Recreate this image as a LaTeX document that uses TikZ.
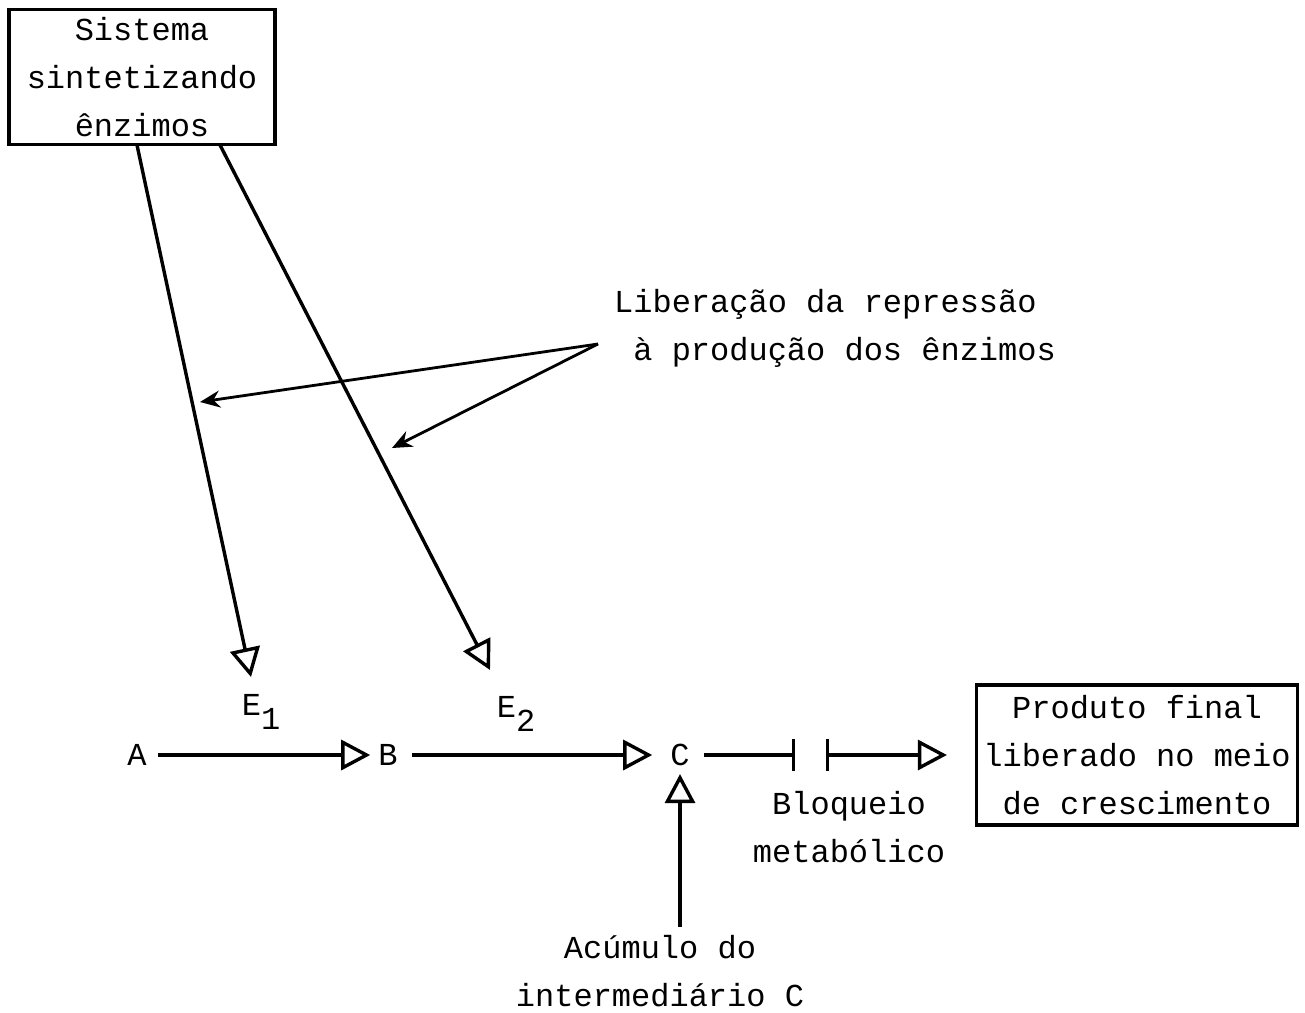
\documentclass[tikz,border=0pt]{standalone}
\usepackage{fontspec}
\setmainfont{Liberation Mono}
\usetikzlibrary{arrows.meta,calc}
\begin{document}
\begin{tikzpicture}[x=1pt,y=-1pt,
  txt/.style={font=\fontsize{32}{48}\selectfont, inner sep=0pt, align=center},
  box/.style={txt, draw, line width=3.2pt},
  letter/.style={txt, inner sep=8pt},
  ln/.style={line width=3.4pt},
  opentip/.style={ln, -{Triangle[open,length=29pt,width=30pt]}},
  solidtip/.style={line width=2.8pt, -{Stealth[length=20pt,width=17pt]}},
  blocktip/.style={ln, -{Bar[width=32pt]}}
]
\useasboundingbox (0,0) rectangle (1305,1012);

% boxes
\node[box, minimum width=266pt, minimum height=135pt] (sys) at (142,77)
  {Sistema\\sintetizando\\ênzimos};
\node[box, minimum width=321pt, minimum height=140pt] (prod) at (1137,755)
  {Produto final\\liberado no meio\\de crescimento};

% pathway letters
\node[letter] (A) at (137,755) {A};
\node[letter] (B) at (388,755) {B};
\node[letter] (C) at (680,755) {C};

% enzyme labels
\node[txt] (E1) at (261,712) {E\raisebox{-14pt}{1}};
\node[txt] (E2) at (516,714) {E\raisebox{-14pt}{2}};

% other labels
\node[txt, align=left] (lib) at (835,328)
  {Liberação da repressão\\\hspace*{0.6em}à produção dos ênzimos};
\node[txt] (blq) at (849,827) {Bloqueio\\metabólico};
\node[txt] (acu) at (660,971) {Acúmulo do\\intermediário C};

% named coordinates
\coordinate (s1) at (137,145);
\coordinate (s2) at (220,145);
\coordinate (t1) at (251,677);
\coordinate (t2) at (490,670);
\coordinate (lp) at (598,344);
\coordinate (r1) at (200,402);
\coordinate (r2) at (392,448);
\coordinate (b1) at (795,755);
\coordinate (b2) at (826,755);

% enzyme synthesis arrows
\draw[opentip] (s1) -- (t1);
\draw[opentip] (s2) -- (t2);

% derepression arrows
\draw[solidtip] (lp) -- (r1);
\draw[solidtip] (lp) -- (r2);

% pathway
\draw[opentip, shorten <=3pt] (A) -- (B);
\draw[opentip, shorten <=6pt, shorten >=10pt] (B) -- (C);
\draw[blocktip, shorten <=6pt] (C) -- (b1);
\draw[ln, {Bar[width=32pt]}-{Triangle[open,length=29pt,width=30pt]}, shorten >=28pt] (b2) -- (prod.west);

% accumulation arrow
\draw[opentip] (acu.north -| C.south) ++(0,-8) -- (C.south);
\end{tikzpicture}
\end{document}
